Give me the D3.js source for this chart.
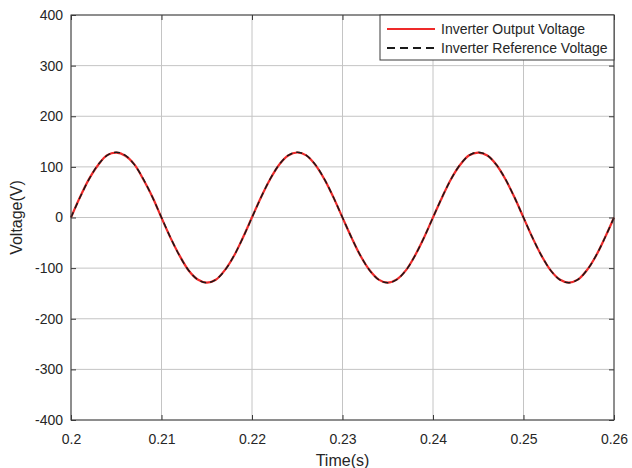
<!DOCTYPE html>
<html>
<head>
<meta charset="utf-8">
<script src="https://cdn.jsdelivr.net/npm/d3@7"></script>
<style>
  html, body { margin: 0; padding: 0; background: #ffffff; }
  svg { display: block; font-family: "Liberation Sans", Arial, sans-serif; }
</style>
</head>
<body>
<svg id="chart" width="632" height="468"></svg>
<script>
// ---- data ----
const timeValues = [
  0.200, 0.201, 0.202, 0.203, 0.204, 0.205, 0.206, 0.207, 0.208, 0.209,
  0.210, 0.211, 0.212, 0.213, 0.214, 0.215, 0.216, 0.217, 0.218, 0.219,
  0.220, 0.221, 0.222, 0.223, 0.224, 0.225, 0.226, 0.227, 0.228, 0.229,
  0.230, 0.231, 0.232, 0.233, 0.234, 0.235, 0.236, 0.237, 0.238, 0.239,
  0.240, 0.241, 0.242, 0.243, 0.244, 0.245, 0.246, 0.247, 0.248, 0.249,
  0.250, 0.251, 0.252, 0.253, 0.254, 0.255, 0.256, 0.257, 0.258, 0.259,
  0.260
];
const outputVoltage = [
  0, 40.5, 76.3, 103.8, 123.1, 128.2, 122.1, 104.9, 75.1, 40.4,
  -0.6, -40.2, -75.3, -104.6, -122.4, -128.6, -122.9, -103.9, -76.0, -39.5,
  0.4, 40.1, 75.6, 104.3, 122.5, 128.4, 122.8, 104.0, 75.5, 39.7,
  -0.3, -39.8, -76.1, -104.2, -122.6, -128.8, -122.3, -104.5, -75.4, -40.0,
  0.2, 39.6, 76.0, 104.1, 122.9, 128.3, 122.4, 104.3, 75.7, 39.9,
  -0.2, -40.1, -75.8, -104.4, -122.5, -128.5, -122.8, -104.1, -75.9, -39.7,
  0.1
];
const referenceVoltage = [
  0, 39.9, 75.8, 104.4, 122.7, 129.0, 122.7, 104.4, 75.8, 39.9,
  0, -39.9, -75.8, -104.4, -122.7, -129.0, -122.7, -104.4, -75.8, -39.9,
  0, 39.9, 75.8, 104.4, 122.7, 129.0, 122.7, 104.4, 75.8, 39.9,
  0, -39.9, -75.8, -104.4, -122.7, -129.0, -122.7, -104.4, -75.8, -39.9,
  0, 39.9, 75.8, 104.4, 122.7, 129.0, 122.7, 104.4, 75.8, 39.9,
  0, -39.9, -75.8, -104.4, -122.7, -129.0, -122.7, -104.4, -75.8, -39.9,
  0
];
const xTicks = [0.20, 0.21, 0.22, 0.23, 0.24, 0.25, 0.26];
const xTickLabels = ["0.2", "0.21", "0.22", "0.23", "0.24", "0.25", "0.26"];
const yTicks = [-400, -300, -200, -100, 0, 100, 200, 300, 400];
const yTickLabels = ["-400", "-300", "-200", "-100", "0", "100", "200", "300", "400"];
const seriesNames = ["Inverter Output Voltage", "Inverter Reference Voltage"];
const xLabel = "Time(s)";
const yLabel = "Voltage(V)";

// ---- layout ----
const W = 632, H = 468;
const margin = { left: 71, right: 18, top: 15, bottom: 48 };
const pw = W - margin.left - margin.right;
const ph = H - margin.top - margin.bottom;
const textColor = "#262626";
const axisColor = "#3a3a3a";
const gridColor = "#c4c4c4";

const svg = d3.select("#chart");
const g = svg.append("g").attr("transform", `translate(${margin.left},${margin.top})`);

const x = d3.scaleLinear().domain([0.2, 0.26]).range([0, pw]);
const y = d3.scaleLinear().domain([-400, 400]).range([ph, 0]);

// grid
g.append("g").selectAll("line").data(xTicks).join("line")
  .attr("x1", d => x(d)).attr("x2", d => x(d))
  .attr("y1", 0).attr("y2", ph)
  .attr("stroke", gridColor).attr("stroke-width", 1);
g.append("g").selectAll("line").data(yTicks).join("line")
  .attr("y1", d => y(d)).attr("y2", d => y(d))
  .attr("x1", 0).attr("x2", pw)
  .attr("stroke", gridColor).attr("stroke-width", 1);

// series
const pts = (vals) => timeValues.map((t, i) => [t, vals[i]]);
const line = d3.line().x(d => x(d[0])).y(d => y(d[1])).curve(d3.curveCatmullRom.alpha(0.5));

g.append("path").datum(pts(outputVoltage))
  .attr("d", line).attr("fill", "none")
  .attr("stroke", "#ee2a2a").attr("stroke-width", 2.2);
g.append("path").datum(pts(referenceVoltage))
  .attr("d", line).attr("fill", "none")
  .attr("stroke", "#1a1a1a").attr("stroke-width", 1.5)
  .attr("stroke-dasharray", "6,4");

// axes (inward ticks)
const xAxis = d3.axisBottom(x).tickValues(xTicks)
  .tickFormat((d, i) => xTickLabels[i]).tickSizeInner(-5).tickSizeOuter(0).tickPadding(12);
const yAxis = d3.axisLeft(y).tickValues(yTicks)
  .tickFormat((d, i) => yTickLabels[i]).tickSizeInner(-5).tickSizeOuter(0).tickPadding(12);

const gx = g.append("g").attr("transform", `translate(0,${ph})`).call(xAxis);
const gy = g.append("g").call(yAxis);
// top/right ticks
g.append("g").call(d3.axisTop(x).tickValues(xTicks).tickFormat("").tickSizeInner(-5).tickSizeOuter(0));
g.append("g").attr("transform", `translate(${pw},0)`)
  .call(d3.axisRight(y).tickValues(yTicks).tickFormat("").tickSizeInner(-5).tickSizeOuter(0));

g.selectAll(".domain").attr("stroke", "none");
g.selectAll(".tick line").attr("stroke", axisColor);
[gx, gy].forEach(a => a.selectAll("text")
  .attr("fill", textColor).attr("font-size", 14)
  .attr("font-family", "'Liberation Sans', Arial, sans-serif"));
gx.selectAll("text").attr("dy", "0.71em").attr("y", 14);
gy.selectAll("text").attr("x", -8);

// box
g.append("rect").attr("x", 0).attr("y", 0).attr("width", pw).attr("height", ph)
  .attr("fill", "none").attr("stroke", axisColor).attr("stroke-width", 1);

// axis labels
svg.append("text").attr("x", margin.left + pw / 2).attr("y", 466)
  .attr("text-anchor", "middle").attr("font-size", 16).attr("fill", textColor)
  .text(xLabel);
svg.append("text")
  .attr("transform", `translate(22,${margin.top + ph / 2}) rotate(-90)`)
  .attr("text-anchor", "middle").attr("font-size", 16).attr("fill", textColor)
  .text(yLabel);

// legend
const lg = svg.append("g");
const lgX = 380, lgY = 15, lgW = margin.left + pw - 380, lgH = 45;
lg.append("rect").attr("x", lgX).attr("y", lgY).attr("width", lgW).attr("height", lgH)
  .attr("fill", "#ffffff").attr("stroke", axisColor).attr("stroke-width", 1);
const legendStyles = [
  { color: "#ee2a2a", dash: null },
  { color: "#1a1a1a", dash: "8,5" }
];
seriesNames.forEach((name, i) => {
  const cy = 29 + i * 19;
  lg.append("line").attr("x1", 387).attr("x2", 435).attr("y1", cy).attr("y2", cy)
    .attr("stroke", legendStyles[i].color).attr("stroke-width", 1.8)
    .attr("stroke-dasharray", legendStyles[i].dash);
  lg.append("text").attr("x", 441).attr("y", cy).attr("dy", "0.35em")
    .attr("font-size", 14).attr("fill", textColor).text(name);
});
</script>
</body>
</html>
